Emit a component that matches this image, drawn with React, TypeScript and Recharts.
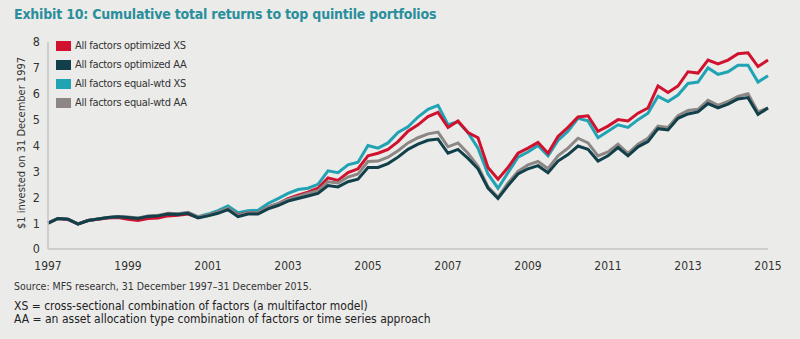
import { LineChart, Line, XAxis, YAxis } from 'recharts'

const years = [
  1997.0, 1997.25, 1997.5, 1997.75, 1998.0, 1998.25, 1998.5, 1998.75,
  1999.0, 1999.25, 1999.5, 1999.75, 2000.0, 2000.25, 2000.5, 2000.75,
  2001.0, 2001.25, 2001.5, 2001.75, 2002.0, 2002.25, 2002.5, 2002.75,
  2003.0, 2003.25, 2003.5, 2003.75, 2004.0, 2004.25, 2004.5, 2004.75,
  2005.0, 2005.25, 2005.5, 2005.75, 2006.0, 2006.25, 2006.5, 2006.75,
  2007.0, 2007.25, 2007.5, 2007.75, 2008.0, 2008.25, 2008.5, 2008.75,
  2009.0, 2009.25, 2009.5, 2009.75, 2010.0, 2010.25, 2010.5, 2010.75,
  2011.0, 2011.25, 2011.5, 2011.75, 2012.0, 2012.25, 2012.5, 2012.75,
  2013.0, 2013.25, 2013.5, 2013.75, 2014.0, 2014.25, 2014.5, 2014.75,
  2015.0,
]

const optimizedXS = [
  1.0, 1.18, 1.14, 0.97, 1.1, 1.15, 1.2, 1.22,
  1.15, 1.1, 1.18, 1.2, 1.28, 1.3, 1.35, 1.22,
  1.3, 1.42, 1.55, 1.32, 1.4, 1.4, 1.62, 1.75,
  1.95, 2.08, 2.2, 2.35, 2.75, 2.65, 2.95, 3.1,
  3.6, 3.7, 3.85, 4.15, 4.55, 4.8, 5.12, 5.28,
  4.7, 4.95, 4.5, 4.3, 3.15, 2.7, 3.15, 3.7,
  3.9, 4.12, 3.7, 4.35, 4.7, 5.1, 5.15, 4.55,
  4.75, 5.0, 4.95, 5.25, 5.45, 6.3, 6.05, 6.3,
  6.85, 6.8, 7.3, 7.15, 7.3, 7.55, 7.58, 7.05,
  7.3,
]

const optimizedAA = [
  1.0, 1.18, 1.15, 0.96, 1.1, 1.16, 1.22, 1.25,
  1.22, 1.18, 1.26, 1.28, 1.35, 1.33, 1.38, 1.2,
  1.28, 1.38, 1.52, 1.25, 1.35, 1.35, 1.55, 1.68,
  1.85, 1.95, 2.05, 2.15, 2.45, 2.4, 2.6, 2.7,
  3.15, 3.15, 3.3, 3.55, 3.85, 4.05, 4.2, 4.25,
  3.7, 3.85, 3.5, 3.1, 2.35, 1.95, 2.45, 2.9,
  3.1, 3.22, 2.95, 3.4, 3.65, 3.98, 3.85, 3.4,
  3.6, 3.92, 3.6, 3.95, 4.15, 4.65, 4.6, 5.05,
  5.22, 5.3, 5.62, 5.45, 5.6, 5.8, 5.85, 5.2,
  5.45,
]

const equalXS = [
  1.0, 1.18, 1.15, 0.97, 1.1, 1.16, 1.22, 1.25,
  1.22, 1.18, 1.25, 1.28, 1.36, 1.35, 1.4, 1.25,
  1.35, 1.48, 1.66, 1.4, 1.48, 1.5, 1.76, 1.95,
  2.15, 2.3, 2.35, 2.5, 3.02, 2.95, 3.25, 3.35,
  4.0, 3.9, 4.1, 4.5, 4.72, 5.1, 5.4, 5.55,
  4.8, 4.92, 4.5, 3.9, 2.9, 2.35, 2.95, 3.55,
  3.75, 4.0, 3.6, 4.2, 4.55, 5.05, 4.95, 4.3,
  4.55, 4.8, 4.7, 5.0, 5.25, 5.9, 5.7, 5.95,
  6.4, 6.45, 7.0, 6.75, 6.85, 7.1, 7.1, 6.45,
  6.7,
]

const equalAA = [
  1.0, 1.18, 1.15, 0.97, 1.1, 1.16, 1.22, 1.26,
  1.24, 1.2, 1.28, 1.3, 1.38, 1.36, 1.42, 1.24,
  1.32, 1.42, 1.58, 1.3, 1.4, 1.4, 1.62, 1.75,
  1.92, 2.03, 2.15, 2.25, 2.6, 2.55, 2.78, 2.9,
  3.38, 3.4, 3.55, 3.8, 4.1, 4.3, 4.45, 4.52,
  3.95, 4.1, 3.7, 3.2, 2.4, 2.0, 2.55, 3.0,
  3.25, 3.38, 3.1, 3.6, 3.9, 4.28, 4.1, 3.6,
  3.75, 4.05, 3.7, 4.05, 4.28, 4.75, 4.7, 5.15,
  5.35, 5.4, 5.75, 5.55, 5.7, 5.9, 6.0, 5.3,
  5.45,
]

const xTicks = [1997, 1999, 2001, 2003, 2005, 2007, 2009, 2011, 2013, 2015]
const yTicks = [0, 1, 2, 3, 4, 5, 6, 7, 8]

const data = years.map((year, i) => ({
  year,
  optXS: optimizedXS[i],
  optAA: optimizedAA[i],
  eqXS: equalXS[i],
  eqAA: equalAA[i],
}))

// legend order
const series = [
  { key: 'optXS', name: 'All factors optimized XS', color: '#d0122f' },
  { key: 'optAA', name: 'All factors optimized AA', color: '#12404a' },
  { key: 'eqXS', name: 'All factors equal-wtd XS', color: '#21a3b3' },
  { key: 'eqAA', name: 'All factors equal-wtd AA', color: '#8c8684' },
]
// draw order, dark on top
const drawOrder = ['eqXS', 'optXS', 'eqAA', 'optAA']

const narrow = '"Liberation Sans Narrow", "Arial Narrow", "DejaVu Sans Condensed", sans-serif'
const text = '#333333'

function LegendBox() {
  return (
    <div style={{ fontFamily: narrow, fontSize: 11, letterSpacing: -0.3, color: text }}>
      {series.map((s) => (
        <div key={s.key} style={{ display: 'flex', alignItems: 'center', height: 19 }}>
          <span style={{ width: 15, height: 10, background: s.color, marginRight: 4, display: 'inline-block' }} />
          <span>{s.name}</span>
        </div>
      ))}
    </div>
  )
}

export default function App() {
  return (
    <div
      style={{
        position: 'absolute',
        left: 0,
        top: 0,
        width: 800,
        height: 339,
        background: '#ebebea',
        overflow: 'hidden',
      }}
    >
      <div
        style={{
          position: 'absolute',
          left: 14,
          top: 6,
          fontFamily: narrow,
          fontWeight: 'bold',
          fontSize: 14,
          letterSpacing: -0.2,
          color: '#2a8e9b',
        }}
      >
        Exhibit 10: Cumulative total returns to top quintile portfolios
      </div>

      <div
        style={{
          position: 'absolute',
          left: 21,
          top: 143,
          transform: 'translate(-50%, -50%) rotate(-90deg)',
          whiteSpace: 'nowrap',
          fontFamily: narrow,
          fontSize: 11,
          color: text,
        }}
      >
        $1 invested on 31 December 1997
      </div>

      <div style={{ position: 'absolute', left: 0, top: 0 }}>
        <LineChart width={800} height={290} data={data} margin={{ top: 42, right: 32, bottom: 11, left: 8 }}>
          <XAxis
            dataKey="year"
            type="number"
            domain={[1997, 2015]}
            ticks={xTicks}
            tickLine={false}
            tickMargin={6}
            axisLine={{ stroke: '#c4c4c4', strokeWidth: 1.5 }}
            tick={{ fill: text, fontSize: 12, fontFamily: narrow }}
            height={30}
          />
          <YAxis
            domain={[0, 8]}
            ticks={yTicks}
            tickLine={false}
            axisLine={{ stroke: '#c4c4c4', strokeWidth: 1.5 }}
            tick={{ fill: text, fontSize: 12.5, fontFamily: narrow }}
            width={40}
          />
          {drawOrder.map((k) => {
            const s = series.find((x) => x.key === k)!
            return (
              <Line
                key={k}
                dataKey={k}
                name={s.name}
                type="linear"
                stroke={s.color}
                strokeWidth={3}
                dot={false}
                isAnimationActive={false}
              />
            )
          })}
        </LineChart>
      </div>

      <div style={{ position: 'absolute', left: 56, top: 36 }}>
        <LegendBox />
      </div>

      <div style={{ position: 'absolute', left: 14, top: 280, fontFamily: narrow, fontSize: 10.5, color: text }}>
        Source: MFS research, 31 December 1997–31 December 2015.
      </div>
      <div
        style={{
          position: 'absolute',
          left: 14,
          top: 300,
          fontFamily: narrow,
          fontSize: 12,
          lineHeight: '13px',
          color: '#222',
        }}
      >
        <div>XS = cross-sectional combination of factors (a multifactor model)</div>
        <div>AA = an asset allocation type combination of factors or time series approach</div>
      </div>
    </div>
  )
}
